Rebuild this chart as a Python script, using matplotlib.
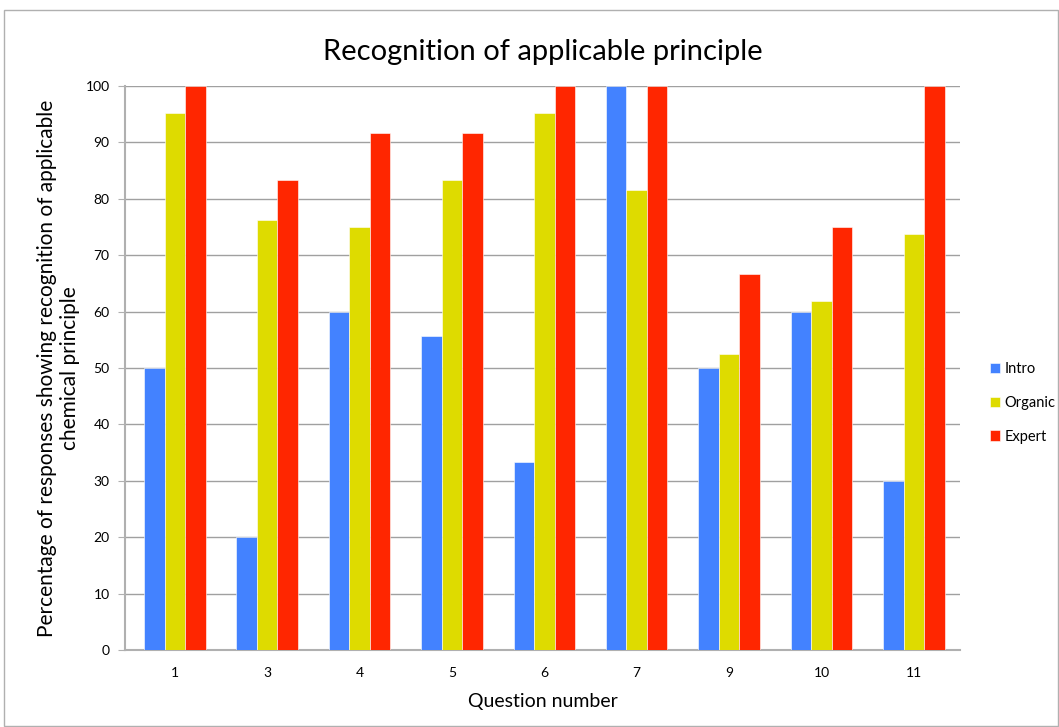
import numpy as np
import matplotlib.pyplot as plt
from matplotlib.patches import Rectangle

plt.rcParams['font.family'] = ['Lato', 'DejaVu Sans']

# Data
questions = ['1', '3', '4', '5', '6', '7', '9', '10', '11']
intro = [50, 20, 60, 55.6, 33.3, 100, 50, 60, 30]
organic = [95.2, 76.2, 75, 83.3, 95.2, 81.6, 52.4, 61.9, 73.8]
expert = [100, 83.3, 91.7, 91.7, 100, 100, 66.7, 75, 100]

series = [('Intro', intro, '#4382ff'),
          ('Organic', organic, '#dedb00'),
          ('Expert', expert, '#ff2600')]

fig = plt.figure(figsize=(10.59, 7.27), dpi=100)
ax = fig.add_axes([125 / 1059, 1 - 650 / 727, 835 / 1059, 564 / 727])

# light border round the whole figure
fig.patches.append(Rectangle((4 / 1059, 0.002), 1 - 5 / 1059, 1 - 10 / 727 - 0.002,
                             transform=fig.transFigure, fill=False,
                             edgecolor='#b0b0b0', linewidth=1))

x = np.arange(len(questions))
width = 0.222
for i, (name, vals, color) in enumerate(series):
    ax.bar(x + (i - 1) * width, vals, width, color=color, label=name,
           edgecolor='white', linewidth=0.4, zorder=3)

ax.set_xlim(-0.54, len(questions) - 0.5)
ax.set_ylim(0, 100)
ax.set_yticks(range(0, 101, 10))
ax.set_xticks(x)
ax.set_xticklabels(questions)
ax.tick_params(axis='x', length=0, labelsize=10, pad=12)
ax.tick_params(axis='y', length=5, color='#b0b0b0', labelsize=10, pad=6)
ax.grid(axis='y', color='#a0a0a0', linewidth=1, zorder=0)

for side in ['top', 'right']:
    ax.spines[side].set_visible(False)
for side in ['left', 'bottom']:
    ax.spines[side].set_color('#b0b0b0')
    ax.spines[side].set_linewidth(1.5)

ax.set_title('Recognition of applicable principle', fontsize=21, pad=19)
ax.set_xlabel('Question number', fontsize=14, labelpad=10)
ax.set_ylabel('Percentage of responses showing recognition of applicable\nchemical principle',
              fontsize=15, labelpad=4)

ax.legend(loc='center left', bbox_to_anchor=(1.02, 0.438), frameon=False,
          fontsize=10.5, handlelength=0.7, handleheight=0.7, handletextpad=0.3,
          labelspacing=1.35)

plt.savefig('out.png', dpi=100)
